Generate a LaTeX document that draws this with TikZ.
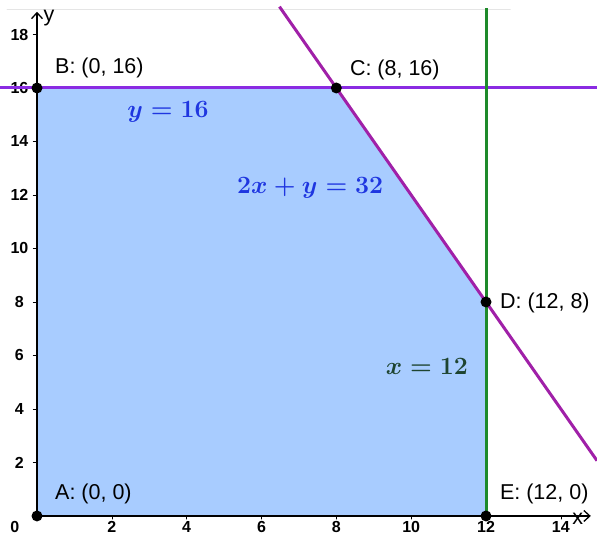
\documentclass[tikz,border=0pt]{standalone}
\usepackage{fontspec}
\setmainfont{Liberation Sans}
\usetikzlibrary{arrows.meta}
\definecolor{feasfill}{HTML}{A8CCFF}
\definecolor{feasedge}{HTML}{4A6FD0}
\definecolor{linehor}{HTML}{8A2BE2}
\definecolor{lineslope}{HTML}{A020A8}
\definecolor{linevert}{HTML}{1E8A2A}
\definecolor{labblue}{HTML}{1F36E0}
\definecolor{labgreen}{HTML}{1E4430}

\begin{document}
\begin{tikzpicture}[x=37.42pt,y=26.75pt,line cap=round,line join=round,
  >={Straight Barb[length=6pt,width=11pt]},
  every node/.style={font=\fontsize{21.5}{24}\selectfont},
  tick/.style={font=\fontsize{16}{18}\selectfont\bfseries,inner sep=0pt},
  eqlab/.style={font=\fontsize{23}{26}\selectfont\boldmath},
  vertex/.style={circle,fill=black,inner sep=0pt,minimum size=11pt}]
  \useasboundingbox (-0.989,-0.748) rectangle (14.966,19.29);
  \draw[black!10,line width=0.8pt] (-0.8,18.95) -- (12.65,18.95);
  % feasible region
  \fill[feasfill,draw=feasedge,line width=0.8pt]
    (0,0) -- (0,16) -- (8,16) -- (12,8) -- (12,0) -- cycle;
  % axes
  \foreach \m in {2,4,...,14}
    \draw[line width=0.6pt] (\m,0) -- (\m,-0.12)
      node[tick] (xt\m) at (\m,-0.42) {\m};
  \node[tick] (xt0) at (-0.59,-0.42) {0};
  \foreach \m in {2,4,...,18}
    \draw[line width=0.6pt] (0,\m) -- (-0.1,\m)
      node[tick] (yt\m) at (-0.47,\m) {\m};
  \draw[line width=1.3pt,->] (0,0) -- (14.8,0);
  \draw[line width=1.3pt,->] (0,0) -- (0,18.85);
  \node (xlab) at (14.45,-0.1) {x};
  \node (ylab) at (0.32,18.6) {y};
  % constraint lines
  \draw[linehor,line width=3pt,line cap=butt] (-0.989,16) -- (14.966,16);
  \draw[lineslope,line width=3pt,line cap=butt] (6.48,19.04) -- (14.966,2.068);
  \draw[linevert,line width=3pt,line cap=butt] (12,0) -- (12,19.0);
  % corner points
  \node[vertex] (A) at (0,0) {};
  \node[vertex] (B) at (0,16) {};
  \node[vertex] (C) at (8,16) {};
  \node[vertex] (D) at (12,8) {};
  \node[vertex] (E) at (12,0) {};
  \node[anchor=west,inner sep=0pt] (Alab) at (0.48,0.82) {A: (0, 0)};
  \node[anchor=west,inner sep=0pt] (Blab) at (0.48,16.75) {B: (0, 16)};
  \node[anchor=west,inner sep=0pt] (Clab) at (8.36,16.67) {C: (8, 16)};
  \node[anchor=west,inner sep=0pt] (Dlab) at (12.37,7.96) {D: (12, 8)};
  \node[anchor=west,inner sep=0pt] (Elab) at (12.37,0.82) {E: (12, 0)};
  % equations
  \node[eqlab,text=labblue] (eqy) at (3.5,15.1) {$y = 16$};
  \node[eqlab,text=labblue] (eqs) at (7.3,12.26) {$2x + y = 32$};
  \node[eqlab,text=labgreen] (eqx) at (10.42,5.57) {$x = 12$};
\end{tikzpicture}
\end{document}
